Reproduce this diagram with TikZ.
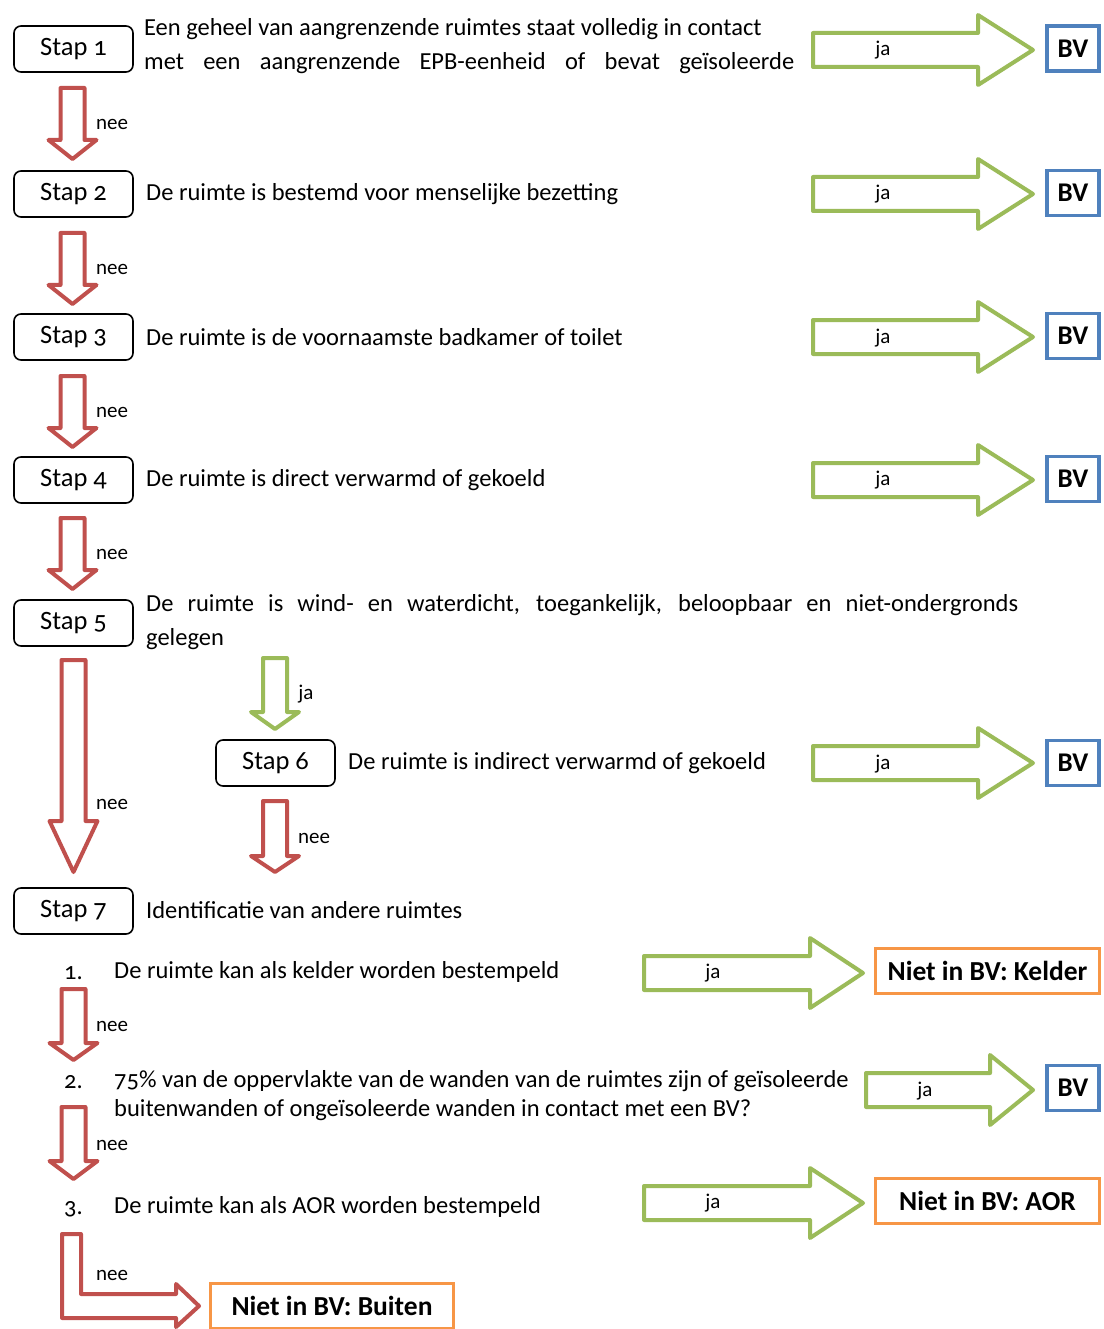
\documentclass[tikz,border=0pt]{standalone}
\usepackage{fontspec}
\setmainfont{Carlito}[Numbers=OldStyle]
\usetikzlibrary{positioning}

\definecolor{neered}{RGB}{192,80,77}
\definecolor{jagreen}{RGB}{155,187,89}
\definecolor{bvblue}{RGB}{79,129,189}
\definecolor{nietorange}{RGB}{247,150,70}

\tikzset{
  stapbox/.style={draw, line width=1.6pt, rounded corners=7pt,
    minimum width=119pt, minimum height=46pt, inner sep=0pt,
    font=\fontsize{26.5}{30}\selectfont},
  desc/.style={anchor=west, inner sep=0pt, align=left,
    font=\fontsize{24.5}{34}\selectfont},
  lbl/.style={inner sep=0pt, font=\fontsize{21}{24}\selectfont},
  bvbox/.style={draw=bvblue, line width=3.5pt, minimum width=52pt,
    minimum height=45pt, inner sep=0pt,
    font=\fontsize{27}{30}\selectfont\bfseries},
  nietbox/.style={draw=nietorange, line width=3pt, minimum height=45pt,
    inner sep=0pt, font=\fontsize{27.5}{30}\selectfont\bfseries},
  blockarrow/.style={line width=4pt, line join=round, fill=white},
}

% block arrow to the right: x start, x head, x tip, y centre
\newcommand{\jaright}[4]{%
  \draw[blockarrow, draw=jagreen] (#1,#4-17) -- (#2,#4-17) -- (#2,#4-35)
    -- (#3,#4) -- (#2,#4+35) -- (#2,#4+17) -- (#1,#4+17) -- cycle;}
% block arrow downwards: x centre, y top, y head, y tip, colour
\newcommand{\blockdown}[5]{%
  \draw[blockarrow, draw=#5] (#1-12,#2) -- (#1+12,#2) -- (#1+12,#3)
    -- (#1+24,#3) -- (#1,#4) -- (#1-24,#3) -- (#1-12,#3) -- cycle;}

\begin{document}
\begin{tikzpicture}[x=1pt, y=-1pt]
\useasboundingbox (0,0) rectangle (1103,1329);

% steps 1-5
\node[stapbox] (s1) at (73.5,49) {Stap 1};
\node[desc] (d1) at (144,46) {Een geheel van aangrenzende ruimtes staat volledig in contact\\
  \makebox[650pt][s]{met een aangrenzende EPB-eenheid of bevat geïsoleerde}};
\node[stapbox] (s2) at (73.5,194) {Stap 2};
\node[desc] (d2) at (146,194) {De ruimte is bestemd voor menselijke bezetting};
\node[stapbox] (s3) at (73.5,337) {Stap 3};
\node[desc] (d3) at (146,337) {De ruimte is de voornaamste badkamer of toilet};
\node[stapbox] (s4) at (73.5,480) {Stap 4};
\node[desc] (d4) at (146,480) {De ruimte is direct verwarmd of gekoeld};
\node[stapbox] (s5) at (73.5,623) {Stap 5};
\node[desc] (d5) at (146,622) {\makebox[872pt][s]{De ruimte is wind- en waterdicht, toegankelijk, beloopbaar en niet-ondergronds}\\
  gelegen};
\node[stapbox] (s6) at (275.5,763) {Stap 6};
\node[desc] (d6) at (348,763) {De ruimte is indirect verwarmd of gekoeld};
\node[stapbox] (s7) at (73.5,911) {Stap 7};
\node[desc] (d7) at (146,910) {Identificatie van andere ruimtes};

% ja -> BV
\jaright{813}{978}{1033}{50}
\node[lbl] (ja1) at (883,50) {ja};
\node[bvbox] (bv1) at (1073,48.5) {BV};
\jaright{813}{978}{1033}{194}
\node[lbl] (ja2) at (883,194) {ja};
\node[bvbox] (bv2) at (1073,193) {BV};
\jaright{813}{978}{1033}{337}
\node[lbl] (ja3) at (883,338) {ja};
\node[bvbox] (bv3) at (1073,336) {BV};
\jaright{813}{978}{1033}{480}
\node[lbl] (ja4) at (883,480) {ja};
\node[bvbox] (bv4) at (1073,479) {BV};
\jaright{813}{978}{1033}{763}
\node[lbl] (ja6) at (883,764) {ja};
\node[bvbox] (bv6) at (1073,763) {BV};

% nee downwards
\blockdown{72.5}{88}{140}{159}{neered}
\node[lbl] (nee1) at (112,124) {nee};
\blockdown{72.5}{233}{285}{304}{neered}
\node[lbl] (nee2) at (112,269) {nee};
\blockdown{72.5}{376}{428}{447}{neered}
\node[lbl] (nee3) at (112,412) {nee};
\blockdown{72.5}{518}{570}{589}{neered}
\node[lbl] (nee4) at (112,554) {nee};
\blockdown{73.5}{660}{821}{872}{neered}
\node[lbl] (nee5) at (112,804) {nee};
\blockdown{275}{658}{712}{729}{jagreen}
\node[lbl] (ja5) at (306,694) {ja};
\blockdown{275}{801}{856}{872}{neered}
\node[lbl] (nee6) at (314,838) {nee};

% step 7 items
\node[desc] (n1) at (64,973) {1.};
\node[desc] (t1) at (114,972) {De ruimte kan als kelder worden bestempeld};
\jaright{644}{810}{863}{973}
\node[lbl] (ja71) at (713,973) {ja};
\node[nietbox, minimum width=224pt] (kelder) at (987.5,971) {Niet in BV: Kelder};
\blockdown{73.5}{989}{1043}{1060}{neered}
\node[lbl] (nee71) at (112,1026) {nee};

\node[desc] (n2) at (64,1082) {2.};
\node[desc] (t2) at (114,1096) {75\% van de oppervlakte van de wanden van de ruimtes zijn of geïsoleerde\\[-5pt]
  buitenwanden of ongeïsoleerde wanden in contact met een BV?};
\jaright{866}{990}{1033}{1090}
\node[lbl] (ja72) at (925,1091) {ja};
\node[bvbox] (bv7) at (1073,1088) {BV};
\blockdown{73.5}{1107}{1161}{1179}{neered}
\node[lbl] (nee72) at (112,1145) {nee};

\node[desc] (n3) at (64,1209) {3.};
\node[desc] (t3) at (114,1207) {De ruimte kan als AOR worden bestempeld};
\jaright{644}{810}{863}{1203}
\node[lbl] (ja73) at (713,1203) {ja};
\node[nietbox, minimum width=224pt] (aor) at (987.5,1201) {Niet in BV: AOR};

% bent arrow to buiten
\draw[blockarrow, draw=neered] (62,1234) -- (81,1234) -- (81,1294) -- (176,1294)
  -- (176,1284) -- (199,1306) -- (176,1327) -- (176,1318) -- (62,1318) -- cycle;
\node[lbl] (nee73) at (112,1275) {nee};
\node[nietbox, minimum width=243pt] (buiten) at (332,1306) {Niet in BV: Buiten};
\end{tikzpicture}
\end{document}
